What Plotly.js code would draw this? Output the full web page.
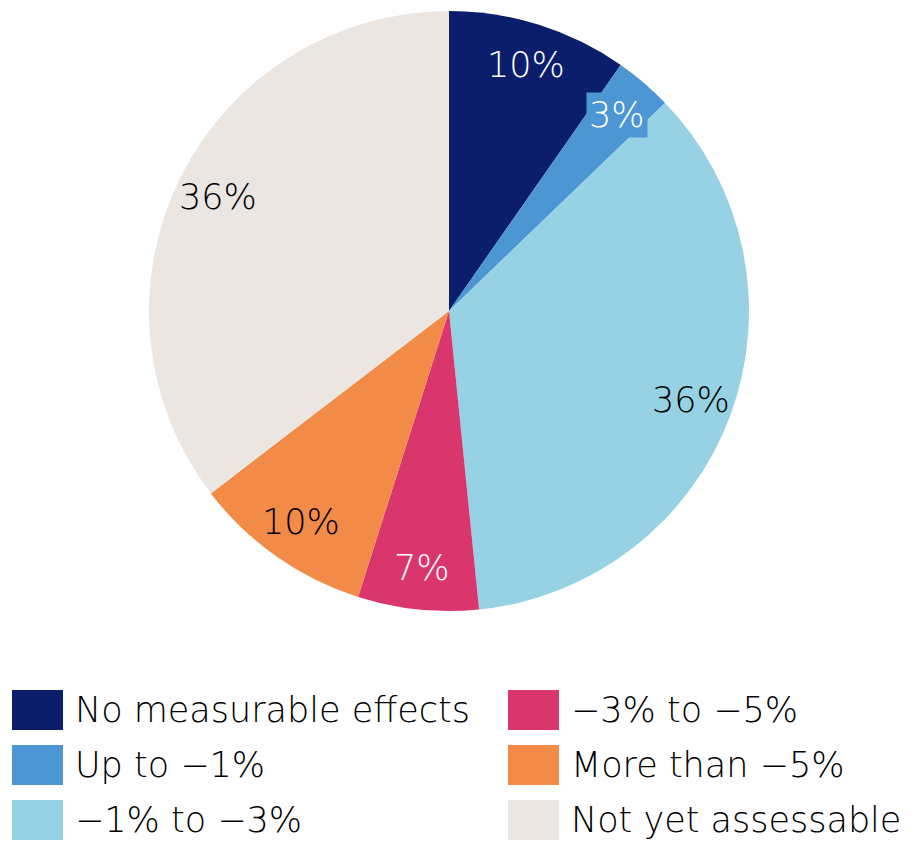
<!DOCTYPE html>
<html>
<head>
<meta charset="utf-8">
<script src="https://cdn.plot.ly/plotly-3.0.1.min.js"></script>
<style>html,body{margin:0;padding:0;background:#fff;}#chart{width:922px;height:842px;}</style>
</head>
<body>
<div id="chart"></div>
<script>
// ---- data ----
const labels = ["No measurable effects", "Up to \u22121%", "\u22121% to \u22123%", "\u22123% to \u22125%", "More than \u22125%", "Not yet assessable"];
const values = [9.7, 3.1, 35.6, 6.5, 9.7, 35.4];
const pctLabels = ["10%", "3%", "36%", "7%", "10%", "36%"];

// ---- styles ----
const colors = ["#0a1e6c", "#4b96d3", "#97d1e4", "#d9366e", "#f28b48", "#ebe6e2"];
const textColors = ["#ffffff", "#ffffff", "#000000", "#ffffff", "#000000", "#000000"];
const FONT = "'DejaVu Sans', sans-serif";
const W = 922, H = 842;
const CX = 449, CY = 311, R = 300;

const annotations = [];
const shapes = [];

// slice labels placed along each slice's mid-angle
const total = values.reduce((a, b) => a + b, 0);
let cum = 0;
values.forEach((v, i) => {
  const mid = (cum + v / 2) / total * 2 * Math.PI;
  cum += v;
  const rr = R * 0.86;
  const px = CX + rr * Math.sin(mid);
  const py = CY - rr * Math.cos(mid);
  const a = {
    x: px / W, y: 1 - py / H, xref: "paper", yref: "paper",
    xanchor: "center", yanchor: "middle", showarrow: false,
    text: pctLabels[i],
    font: {family: FONT, size: 35, color: textColors[i], weight: 200}
  };
  if (i === 1) { a.bgcolor = colors[i]; a.borderpad = 2; }
  annotations.push(a);
});

// custom legend: two columns, three rows
const colX = [12, 508];
const rowY = [710, 765, 820];
labels.forEach((lab, i) => {
  const c = Math.floor(i / 3), r = i % 3;
  const x0 = colX[c], yc = rowY[r];
  shapes.push({
    type: "rect", xref: "paper", yref: "paper",
    x0: x0 / W, x1: (x0 + 51) / W,
    y0: 1 - (yc + 20) / H, y1: 1 - (yc - 20) / H,
    fillcolor: colors[i], line: {width: 0}
  });
  annotations.push({
    x: (x0 + 61) / W, y: 1 - yc / H, xref: "paper", yref: "paper",
    xanchor: "left", yanchor: "middle", showarrow: false,
    text: lab,
    font: {family: FONT, size: 35, color: "#000000", weight: 200}
  });
});

const trace = {
  type: "pie",
  labels: labels,
  values: values,
  sort: false,
  direction: "clockwise",
  rotation: 0,
  textinfo: "none",
  hoverinfo: "label+percent",
  marker: {colors: colors, line: {width: 0}},
  showlegend: false,
  domain: {x: [(CX - R) / W, (CX + R) / W], y: [1 - (CY + R) / H, 1 - (CY - R) / H]}
};

const layout = {
  width: W, height: H,
  margin: {l: 0, r: 0, t: 0, b: 0},
  paper_bgcolor: "#ffffff",
  showlegend: false,
  font: {family: FONT},
  annotations: annotations,
  shapes: shapes
};

Plotly.newPlot("chart", [trace], layout, {displayModeBar: false, staticPlot: true});
</script>
</body>
</html>
